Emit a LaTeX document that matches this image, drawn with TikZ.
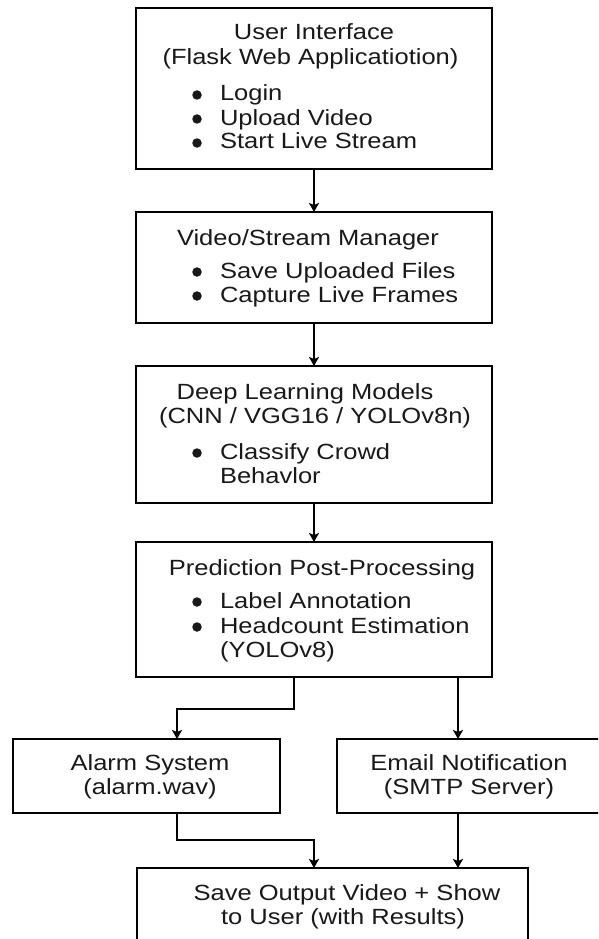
\documentclass[tikz,border=0pt]{standalone}
\usepackage{fontspec}
\setmainfont{Liberation Sans}[FakeStretch=1.16]
\usetikzlibrary{arrows.meta,calc}

\tikzset{
  box/.style={draw=black, line width=1.6pt, inner sep=0pt, outer sep=0pt, fill=none},
  arr/.style={draw=black, line width=1.6pt, -{Stealth[length=9pt,width=10pt,inset=2pt]}},
  txt/.style={inner sep=0pt, outer sep=0pt, text=black!90, font=\fontsize{22}{26}\selectfont},
  head/.style={txt, anchor=base},
  item/.style={txt, anchor=base west},
  dot/.style={circle, fill=black!90, inner sep=0pt, minimum size=9.5pt}
}

% bullet point: round dot plus text, on a given baseline
\newcommand{\bulletline}[3]{%
  \node[dot] (#1d) at (197,#2-6) {};
  \node[item] (#1) at (220,#2) {#3};
}

\begin{document}
\begin{tikzpicture}[x=1pt,y=-1pt]
  \clip (0,0) rectangle (598,939);
  \fill[white] (0,0) rectangle (598,939);

  % boxes
  \node[box, minimum width=356pt, minimum height=161pt] (ui)    at (314,88.5)  {};
  \node[box, minimum width=356pt, minimum height=111pt] (vsm)   at (314,267.5) {};
  \node[box, minimum width=356pt, minimum height=137pt] (dl)    at (314,434.5) {};
  \node[box, minimum width=356pt, minimum height=135pt] (pp)    at (314,609.5) {};
  \node[box, minimum width=267pt, minimum height=74pt]  (alarm) at (146.5,776) {};
  \node[box, minimum width=264pt, minimum height=74pt]  (email) at (469,776)   {};
  \node[box, minimum width=391pt, minimum height=92pt]  (final) at (332.5,914) {};

  % User interface
  \node[head] (uit1) at (314,40)   {User Interface};
  \node[head] (uit2) at (310.5,65) {(Flask Web Applicatiotion)};
  \bulletline{uib1}{101}{Login}
  \bulletline{uib2}{125}{Upload Video}
  \bulletline{uib3}{149}{Start Live Stream}

  % Stream manager
  \node[head] (vsmt) at (308,245) {Video/Stream Manager};
  \bulletline{vsmb1}{278}{Save Uploaded Files}
  \bulletline{vsmb2}{302}{Capture Live Frames}

  % Models
  \node[head] (dlt1) at (305,399) {Deep Learning Models};
  \node[head] (dlt2) at (315,423) {(CNN / VGG16 / YOLOv8n)};
  \bulletline{dlb1}{459}{Classify Crowd}
  \node[item] (dlb2) at (220,483) {Behavlor};

  % Post-processing
  \node[head] (ppt) at (322,575) {Prediction Post-Processing};
  \bulletline{ppb1}{608}{Label Annotation}
  \bulletline{ppb2}{633}{Headcount Estimation}
  \node[item] (ppb3) at (220,657) {(YOLOv8)};

  % Outputs
  \node[head] (alt1) at (150,770) {Alarm System};
  \node[head] (alt2) at (150,794) {(alarm.wav)};
  \node[head] (emt1) at (469,770) {Email Notification};
  \node[head] (emt2) at (469,794) {(SMTP Server)};
  \node[head] (fint1) at (347,900) {Save Output Video + Show};
  \node[head] (fint2) at (343,924) {to User (with Results)};

  % connectors
  \draw[arr] (ui.south)  -- (vsm.north);
  \draw[arr] (vsm.south) -- (dl.north);
  \draw[arr] (dl.south)  -- (pp.north);
  \draw[arr] ([xshift=-20pt]pp.south) -- ++(0,32) -| ([xshift=30.5pt]alarm.north);
  \draw[arr] ([xshift=144pt]pp.south) -- ([xshift=144pt]pp.south |- email.north);
  \draw[arr] ([xshift=30.5pt]alarm.south) -- ++(0,27) -| ([xshift=-18.5pt]final.north);
  \draw[arr] ([xshift=-11pt]email.south) -- ([xshift=-11pt]email.south |- final.north);
\end{tikzpicture}
\end{document}
